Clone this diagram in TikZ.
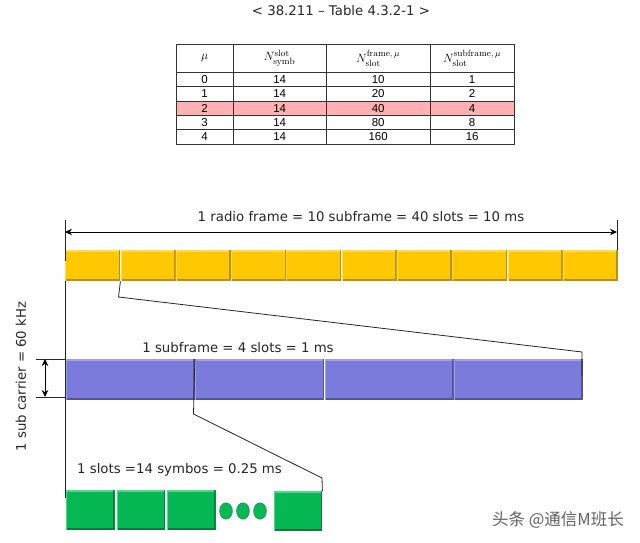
\documentclass[tikz,border=0pt]{standalone}
\usepackage{fontspec}
\newfontfamily\labelfont{DejaVu Sans}
\newfontfamily\cellfont{Liberation Sans}
\newfontfamily\markfont{Noto Sans CJK SC}
\usetikzlibrary{arrows.meta,positioning,shadows,shapes.geometric}

\definecolor{framegold}{HTML}{FFC800}
\definecolor{framelight}{HTML}{FFDC50}
\definecolor{framedark}{HTML}{B89020}
\definecolor{subviolet}{HTML}{7B7BDC}
\definecolor{sublight}{HTML}{A0A0EA}
\definecolor{subdark}{HTML}{55558F}
\definecolor{symbgreen}{HTML}{06B853}
\definecolor{symblight}{HTML}{50D88A}
\definecolor{symbdark}{HTML}{0A7A3C}
\definecolor{rowpink}{HTML}{FFB0B0}

\tikzset{
	cap label/.style={inner sep=0.75pt, font=\labelfont\fontsize{13.3}{15}\selectfont, text=black!85},
	table cell/.style={draw=black!80, line width=0.8pt, anchor=north west, inner sep=0pt, font=\cellfont\fontsize{11.5}{12}\selectfont},
	head math/.style={font=\fontsize{13}{13}\selectfont},
	block/.style n args={3}{anchor=north west, inner sep=0pt, fill=#1,
		path picture={
		\fill[#2] (path picture bounding box.north west) rectangle ([yshift=-2pt]path picture bounding box.north east);
		\fill[#3] (path picture bounding box.south west) rectangle ([yshift=2pt]path picture bounding box.south east);
		\fill[#3] (path picture bounding box.south east) rectangle ([xshift=-1.6pt]path picture bounding box.north east);
		\fill[#2] (path picture bounding box.south west) rectangle ([xshift=0.6pt]path picture bounding box.north west);
	}},
	frame block/.style={block={framegold}{framelight}{framedark}, minimum width=55pt, minimum height=31pt},
	sub block/.style={block={subviolet}{sublight}{subdark}, minimum width=129pt, minimum height=41pt},
	symb block/.style={block={symbgreen}{symblight}{symbdark}, minimum width=48.5pt, minimum height=39.5pt},
	symb dot/.style={ellipse, fill=symbgreen, draw=symbdark, line width=0.3pt, minimum width=13pt, minimum height=16.5pt, inner sep=0pt},
	guide/.style={black!85, line width=0.8pt},
	span arrow/.style={black, line width=0.7pt, {Stealth[length=7pt,width=6.5pt]}-{Stealth[length=7pt,width=6.5pt]}},
}

\begin{document}
\begin{tikzpicture}[x=1pt,y=1pt,yscale=-1,xscale=1]
	\useasboundingbox (0,0) rectangle (640,542);

	% Title above the table
	\node[cap label] (title) at (341,10.5) {< 38.211 – Table 4.3.2-1 >};

	% Table header
	\node[table cell, head math, minimum width=56.5pt, minimum height=28pt] (h0) at (176,44) {$\mu$};
	\node[table cell, head math, minimum width=93.5pt, minimum height=28pt] (h1) at (232.5,44) {$N^{\mathrm{slot}}_{\mathrm{symb}}$};
	\node[table cell, head math, minimum width=103.5pt, minimum height=28pt] (h2) at (326,44) {$N^{\mathrm{frame},\,\mu}_{\mathrm{slot}}$};
	\node[table cell, head math, minimum width=84.5pt, minimum height=28pt] (h3) at (429.5,44) {$N^{\mathrm{subframe},\,\mu}_{\mathrm{slot}}$};

	% Table rows
	\foreach \rownum/\rowy/\a/\b/\c/\rowfill in {0/72/14/10/1/white, 1/86.3/14/20/2/white, 2/100.6/14/40/4/rowpink, 3/115/14/80/8/white, 4/129.3/14/160/16/white}{
		\node[table cell, fill=\rowfill, minimum width=56.5pt, minimum height=14.2pt] (r\rownum a) at (176,\rowy) {\rownum};
		\node[table cell, fill=\rowfill, minimum width=93.5pt, minimum height=14.2pt] (r\rownum b) at (232.5,\rowy) {\a};
		\node[table cell, fill=\rowfill, minimum width=103.5pt, minimum height=14.2pt] (r\rownum c) at (326,\rowy) {\b};
		\node[table cell, fill=\rowfill, minimum width=84.5pt, minimum height=14.2pt] (r\rownum d) at (429.5,\rowy) {\c};
	}

	% Radio frame
	\foreach \i in {1,...,10}{
		\node[frame block] (frame\i) at ({65+(\i-1)*55.3},250) {};
	}

	% Subframe
	\foreach \i in {1,...,4}{
		\node[sub block] (sub\i) at ({65.5+(\i-1)*129.4},359) {};
	}

	% Slot
	\node[symb block] (symb1) at (66,490) {};
	\node[symb block] (symb2) at (116.5,490) {};
	\node[symb block] (symb3) at (167,490) {};
	\node[symb block] (symb4) at (273.5,491) {};
	\node[symb dot] (dot1) at (226,511) {};
	\node[symb dot] (dot2) at (243,511) {};
	\node[symb dot] (dot3) at (260,511) {};

	% Labels
	\node[cap label] (framelabel) at (361,216.5) {1 radio frame = 10 subframe = 40 slots = 10 ms};
	\node[cap label] (sublabel) at (238,347.5) {1 subframe = 4 slots = 1 ms};
	\node[cap label] (slotlabel) at (179.5,470) {1 slots =14 symbos = 0.25 ms};
	\node[cap label, rotate=90] (carrierlabel) at (21,376.5) {1 sub carrier = 60 kHz};

	% Free ends of the guide lines
	\coordinate (lefttop) at (65,220);
	\coordinate (leftmid) at (65,261);
	\coordinate (leftlow) at (65,498);
	\coordinate (righttop) at (617,220);
	\coordinate (rightmid) at (617,250);
	\coordinate (subbendA) at (118.5,297);
	\coordinate (subbendB) at (582,352);
	\coordinate (subend) at (582,376);
	\coordinate (slotbendA) at (193.5,414);
	\coordinate (slotbendB) at (322,478);
	\coordinate (tickAstart) at (36,359);
	\coordinate (tickAend) at (65,359);
	\coordinate (tickBstart) at (36,397);
	\coordinate (tickBend) at (65,397);
	\coordinate (arrowleft) at (65,232);
	\coordinate (arrowright) at (617,232);
	\coordinate (spanA) at (45,359);
	\coordinate (spanB) at (45,397);

	% Guide lines
	\draw[guide] (lefttop) -- (leftmid);
	\draw[guide] (frame1.south west) -- (leftlow);
	\draw[guide] (righttop) -- (rightmid);
	\draw[guide] (frame1.south east) -- (subbendA) -- (subbendB) -- (subend);
	\draw[guide] (sub1.north east) -- (slotbendA) -- (slotbendB) -- (symb4.north east);
	\draw[guide] (tickAstart) -- (tickAend);
	\draw[guide] (tickBstart) -- (tickBend);

	% Span arrows
	\draw[span arrow] (arrowleft) -- (arrowright);
	\draw[span arrow] (spanA) -- (spanB);

	% Watermark
	\node[inner sep=0pt, text=black!62, font=\markfont\fontsize{16.5}{18}\selectfont] (watermark) at (558,520) {头条 @通信M班长};
\end{tikzpicture}
\end{document}
